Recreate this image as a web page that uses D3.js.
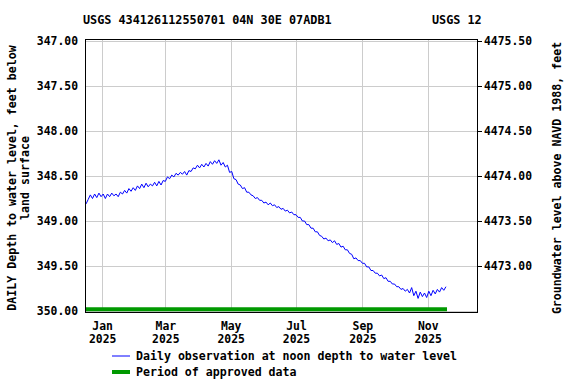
<html>
<head>
<script src="https://d3js.org/d3.v7.min.js"></script>
<style>
  body { margin: 0; background: #fff; }
  text { font-family: "DejaVu Sans Mono", monospace; font-weight: bold; fill: #000; }
</style>
</head>
<body>
<div id="chart"></div>
<script>
// Data: depth below land surface, one value every 2 days from 2024-12-17
const startDate = "2024-12-17";
const stepDays = 2;
const depths = [
  348.81, 348.76, 348.71, 348.75, 348.70, 348.74, 348.69, 348.73, 348.70, 348.75,
  348.70, 348.73, 348.69, 348.72, 348.70, 348.73, 348.68, 348.70, 348.66, 348.69,
  348.64, 348.67, 348.63, 348.66, 348.61, 348.64, 348.59, 348.63, 348.58, 348.62,
  348.59, 348.61, 348.57, 348.61, 348.56, 348.60, 348.55, 348.56, 348.51, 348.53,
  348.49, 348.51, 348.47, 348.49, 348.46, 348.48, 348.45, 348.49, 348.44, 348.45,
  348.41, 348.42, 348.38, 348.41, 348.37, 348.40, 348.36, 348.39, 348.34, 348.37,
  348.33, 348.36, 348.32, 348.38, 348.35, 348.40, 348.38, 348.46, 348.45, 348.53,
  348.54, 348.59, 348.60, 348.64, 348.63, 348.68, 348.68, 348.71, 348.72, 348.75,
  348.74, 348.77, 348.77, 348.80, 348.79, 348.82, 348.80, 348.83, 348.82, 348.85,
  348.84, 348.87, 348.86, 348.89, 348.88, 348.91, 348.90, 348.93, 348.93, 348.96,
  348.96, 349.00, 349.00, 349.04, 349.04, 349.08, 349.08, 349.12, 349.12, 349.16,
  349.17, 349.20, 349.19, 349.22, 349.21, 349.24, 349.22, 349.26, 349.25, 349.29,
  349.28, 349.32, 349.32, 349.36, 349.37, 349.42, 349.41, 349.44, 349.44, 349.47,
  349.47, 349.51, 349.51, 349.55, 349.55, 349.58, 349.58, 349.61, 349.60, 349.64,
  349.63, 349.67, 349.67, 349.70, 349.70, 349.73, 349.73, 349.76, 349.75, 349.78,
  349.76, 349.80, 349.74, 349.83, 349.78, 349.86, 349.79, 349.84, 349.80, 349.85,
  349.78, 349.83, 349.77, 349.81, 349.76, 349.79, 349.74, 349.77, 349.73
];
const approvedStart = "2024-12-16";
const approvedEnd = "2025-11-19";
const approvedLevel = 349.98;

const leftTicks = [347.0, 347.5, 348.0, 348.5, 349.0, 349.5, 350.0];
const rightTicks = [4475.5, 4475.0, 4474.5, 4474.0, 4473.5, 4473.0];
const datumOffset = 4822.5; // elevation = offset - depth
const monthTicks = ["2025-01-01", "2025-03-01", "2025-05-01", "2025-07-01", "2025-09-01", "2025-11-01"];

const titleText = "USGS 434126112550701 04N 30E 07ADB1";
const titleRight = "USGS 12";

const parse = d3.utcParse("%Y-%m-%d");
const t0 = parse(startDate);
const series = depths.map((v, i) => ({ date: d3.utcDay.offset(t0, i * stepDays), value: v }));

const W = 576, H = 384;
const plot = { left: 85, right: 477, top: 39, bottom: 312 };

const svg = d3.select("#chart").append("svg")
    .attr("width", W).attr("height", H);

const x = d3.scaleUtc()
    .domain([parse("2024-12-16"), parse("2025-12-17")])
    .range([plot.left, plot.right]);

const y = d3.scaleLinear()
    .domain([347, 350])
    .range([41, 311]);

const yR = d3.scaleLinear()
    .domain([datumOffset - 347, datumOffset - 350])
    .range([41, 311]);

// Grid
svg.append("g")
  .selectAll("line.v")
  .data(monthTicks.map(parse))
  .join("line")
    .attr("x1", d => Math.round(x(d)) + 0.5).attr("x2", d => Math.round(x(d)) + 0.5)
    .attr("y1", plot.top).attr("y2", plot.bottom)
    .attr("stroke", "#cccccc");

svg.append("g")
  .selectAll("line.h")
  .data(leftTicks)
  .join("line")
    .attr("x1", plot.left).attr("x2", plot.right)
    .attr("y1", d => Math.round(y(d)) + 0.5).attr("y2", d => Math.round(y(d)) + 0.5)
    .attr("stroke", "#cccccc");

// Approved period bar
svg.append("line")
    .attr("x1", x(parse(approvedStart)))
    .attr("x2", x(parse(approvedEnd)))
    .attr("y1", y(approvedLevel)).attr("y2", y(approvedLevel))
    .attr("stroke", "#009900")
    .attr("stroke-width", 4);

// Data line
const line = d3.line()
    .x(d => x(d.date))
    .y(d => y(d.value));

svg.append("path")
    .datum(series)
    .attr("d", line)
    .attr("fill", "none")
    .attr("stroke", "#0000ff")
    .attr("stroke-width", 1);

// Frame
svg.append("rect")
    .attr("x", plot.left + 0.5).attr("y", plot.top + 0.5)
    .attr("width", plot.right - plot.left).attr("height", plot.bottom - plot.top)
    .attr("fill", "none")
    .attr("stroke", "#000");

// Left axis
const leftAxis = svg.append("g")
    .attr("transform", `translate(${plot.left},0)`)
    .call(d3.axisLeft(y).tickValues(leftTicks).tickSize(0).tickPadding(7).tickFormat(d3.format(".2f")));
leftAxis.select(".domain").remove();
leftAxis.selectAll("text").style("font-size", "11.4px");

// Right axis
const rightAxis = svg.append("g")
    .attr("transform", `translate(${plot.right + 1},0)`)
    .call(d3.axisRight(yR).tickValues(rightTicks).tickSize(4).tickPadding(2).tickFormat(d3.format(".2f")));
rightAxis.select(".domain").remove();
rightAxis.selectAll("line").attr("stroke", "#000");
rightAxis.selectAll("text").style("font-size", "11.4px");

// Bottom axis: month + year on two lines
const bottom = svg.append("g")
    .attr("transform", `translate(0,${plot.bottom})`)
    .call(d3.axisBottom(x).tickValues(monthTicks.map(parse)).tickSize(0).tickFormat(""));
bottom.select(".domain").remove();
bottom.selectAll(".tick").each(function(d) {
  const g = d3.select(this);
  g.append("text").attr("y", 18).attr("text-anchor", "middle")
    .style("font-size", "11.4px").text(d3.utcFormat("%b")(d));
  g.append("text").attr("y", 31).attr("text-anchor", "middle")
    .style("font-size", "11.4px").text(d3.utcFormat("%Y")(d));
});

// Title
svg.append("text").attr("x", 83).attr("y", 24)
    .style("font-size", "11.8px").text(titleText);
svg.append("text").attr("x", 432).attr("y", 24)
    .style("font-size", "11.8px").text(titleRight);

// Axis titles
const midY = 178;
svg.append("text")
    .attr("transform", `translate(16,${midY}) rotate(-90)`)
    .attr("text-anchor", "middle")
    .style("font-size", "11.6px")
    .text("DAILY Depth to water level, feet below");
svg.append("text")
    .attr("transform", `translate(29,${midY}) rotate(-90)`)
    .attr("text-anchor", "middle")
    .style("font-size", "11.6px")
    .text("land surface");
svg.append("text")
    .attr("transform", `translate(561,${midY}) rotate(-90)`)
    .attr("text-anchor", "middle")
    .style("font-size", "11.6px")
    .text("Groundwater level above NAVD 1988, feet");

// Legend
const legend = svg.append("g");
legend.append("line").attr("x1", 112).attr("x2", 130).attr("y1", 356).attr("y2", 356)
    .attr("stroke", "#0000ff").attr("stroke-width", 1);
legend.append("text").attr("x", 136).attr("y", 360)
    .style("font-size", "11.6px").text("Daily observation at noon depth to water level");
legend.append("line").attr("x1", 112).attr("x2", 130).attr("y1", 372).attr("y2", 372)
    .attr("stroke", "#009900").attr("stroke-width", 4);
legend.append("text").attr("x", 136).attr("y", 376)
    .style("font-size", "11.6px").text("Period of approved data");
</script>
</body>
</html>
